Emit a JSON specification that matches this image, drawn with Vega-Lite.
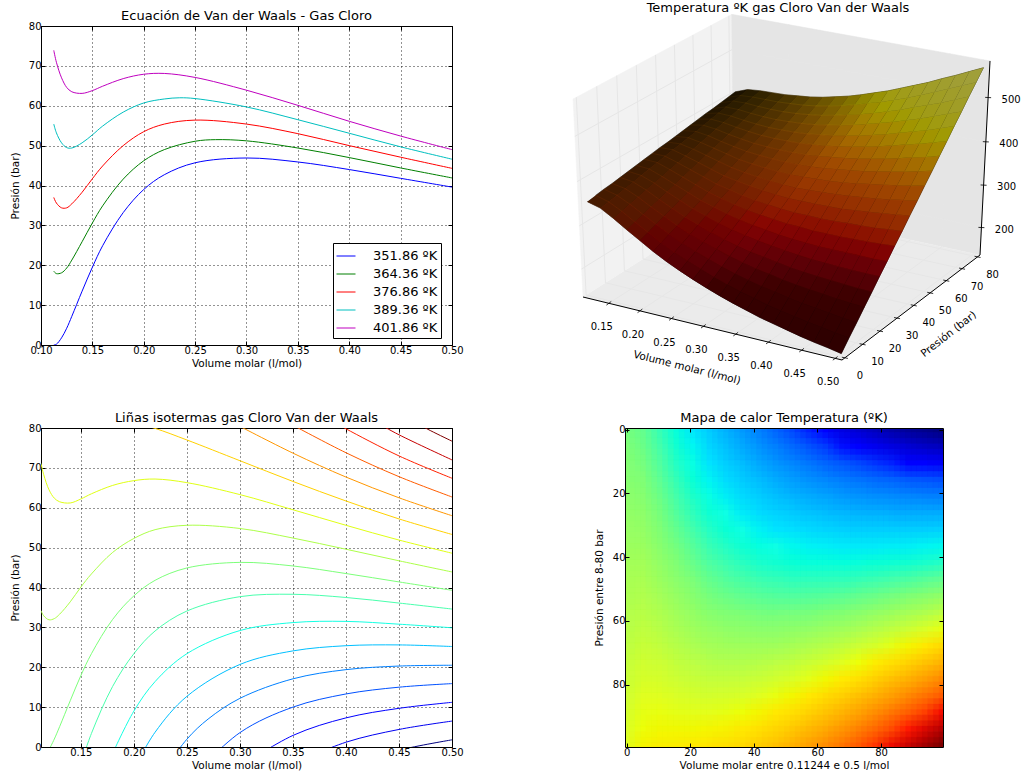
{"$schema":"https://vega.github.io/schema/vega-lite/v6.json","background":"white","padding":{"left":10,"top":2,"right":0,"bottom":0},"bounds":"flush","columns":2,"spacing":{"row":83,"column":173},
"config":{"font":"DejaVu Sans","view":{"stroke":null},"axis":{"domainColor":"#000","tickColor":"#000","labelColor":"#000","titleColor":"#000","labelFontSize":10,"titleFontSize":10.5,"titleFontWeight":"normal","gridColor":"#000","gridDash":[1,3],"gridOpacity":0.85,"tickSize":-4,"labelPadding":4,"labelFlush":false,"labelOverlap":false},"title":{"fontSize":13,"fontWeight":"normal","color":"#000","offset":-2,"anchor":"middle"}},
"datasets":{
"vdw":[
{"s":"351.86 ºK","v":0.11244,"P":0},{"s":"351.86 ºK","v":0.115,"P":0.2},{"s":"351.86 ºK","v":0.12,"P":1.8},{"s":"351.86 ºK","v":0.125,"P":4.2},{"s":"351.86 ºK","v":0.13,"P":7.2},{"s":"351.86 ºK","v":0.14,"P":13.5},{"s":"351.86 ºK","v":0.15,"P":19.5},{"s":"351.86 ºK","v":0.16,"P":24.9},{"s":"351.86 ºK","v":0.18,"P":33.2},{"s":"351.86 ºK","v":0.2,"P":39},{"s":"351.86 ºK","v":0.22,"P":42.7},{"s":"351.86 ºK","v":0.25,"P":45.7},{"s":"351.86 ºK","v":0.3,"P":46.9},{"s":"351.86 ºK","v":0.35,"P":45.9},{"s":"351.86 ºK","v":0.4,"P":44},{"s":"351.86 ºK","v":0.45,"P":41.8},{"s":"351.86 ºK","v":0.5,"P":39.6},
{"s":"364.36 ºK","v":0.11244,"P":18.5},{"s":"364.36 ºK","v":0.115,"P":17.9},{"s":"364.36 ºK","v":0.12,"P":18.1},{"s":"364.36 ºK","v":0.125,"P":19.3},{"s":"364.36 ºK","v":0.13,"P":21.3},{"s":"364.36 ºK","v":0.14,"P":25.9},{"s":"364.36 ºK","v":0.15,"P":30.6},{"s":"364.36 ºK","v":0.16,"P":34.9},{"s":"364.36 ºK","v":0.18,"P":41.6},{"s":"364.36 ºK","v":0.2,"P":46.2},{"s":"364.36 ºK","v":0.22,"P":49},{"s":"364.36 ºK","v":0.25,"P":51.1},{"s":"364.36 ºK","v":0.27,"P":51.5},{"s":"364.36 ºK","v":0.3,"P":51.2},{"s":"364.36 ºK","v":0.35,"P":49.4},{"s":"364.36 ºK","v":0.4,"P":47},{"s":"364.36 ºK","v":0.45,"P":44.4},{"s":"364.36 ºK","v":0.5,"P":41.9},
{"s":"376.86 ºK","v":0.11244,"P":37},{"s":"376.86 ºK","v":0.115,"P":35.6},{"s":"376.86 ºK","v":0.12,"P":34.4},{"s":"376.86 ºK","v":0.125,"P":34.4},{"s":"376.86 ºK","v":0.13,"P":35.4},{"s":"376.86 ºK","v":0.14,"P":38.3},{"s":"376.86 ºK","v":0.15,"P":41.7},{"s":"376.86 ºK","v":0.16,"P":44.9},{"s":"376.86 ºK","v":0.18,"P":50},{"s":"376.86 ºK","v":0.2,"P":53.5},{"s":"376.86 ºK","v":0.22,"P":55.4},{"s":"376.86 ºK","v":0.25,"P":56.4},{"s":"376.86 ºK","v":0.3,"P":55.4},{"s":"376.86 ºK","v":0.35,"P":53},{"s":"376.86 ºK","v":0.4,"P":50},{"s":"376.86 ºK","v":0.45,"P":47.1},{"s":"376.86 ºK","v":0.5,"P":44.3},
{"s":"389.36 ºK","v":0.11244,"P":55.4},{"s":"389.36 ºK","v":0.115,"P":53.2},{"s":"389.36 ºK","v":0.12,"P":50.7},{"s":"389.36 ºK","v":0.125,"P":49.5},{"s":"389.36 ºK","v":0.13,"P":49.4},{"s":"389.36 ºK","v":0.14,"P":50.7},{"s":"389.36 ºK","v":0.15,"P":52.7},{"s":"389.36 ºK","v":0.16,"P":54.9},{"s":"389.36 ºK","v":0.18,"P":58.4},{"s":"389.36 ºK","v":0.2,"P":60.7},{"s":"389.36 ºK","v":0.22,"P":61.7},{"s":"389.36 ºK","v":0.235,"P":62},{"s":"389.36 ºK","v":0.25,"P":61.8},{"s":"389.36 ºK","v":0.3,"P":59.7},{"s":"389.36 ºK","v":0.35,"P":56.5},{"s":"389.36 ºK","v":0.4,"P":53.1},{"s":"389.36 ºK","v":0.45,"P":49.7},{"s":"389.36 ºK","v":0.5,"P":46.6},
{"s":"401.86 ºK","v":0.11244,"P":73.9},{"s":"401.86 ºK","v":0.115,"P":70.9},{"s":"401.86 ºK","v":0.12,"P":67},{"s":"401.86 ºK","v":0.125,"P":64.6},{"s":"401.86 ºK","v":0.13,"P":63.5},{"s":"401.86 ºK","v":0.14,"P":63.1},{"s":"401.86 ºK","v":0.15,"P":63.8},{"s":"401.86 ºK","v":0.16,"P":64.9},{"s":"401.86 ºK","v":0.18,"P":66.8},{"s":"401.86 ºK","v":0.2,"P":67.9},{"s":"401.86 ºK","v":0.22,"P":68.1},{"s":"401.86 ºK","v":0.25,"P":67.1},{"s":"401.86 ºK","v":0.3,"P":63.9},{"s":"401.86 ºK","v":0.35,"P":60.1},{"s":"401.86 ºK","v":0.4,"P":56.1},{"s":"401.86 ºK","v":0.45,"P":52.4},{"s":"401.86 ºK","v":0.5,"P":49}],
"iso":[
{"T":150,"v":0.4,"P":-4.8},{"T":150,"v":0.45,"P":-0.8},{"T":150,"v":0.5,"P":1.8},
{"T":175,"v":0.35,"P":-4.2},{"T":175,"v":0.4,"P":1.2},{"T":175,"v":0.45,"P":4.4},{"T":175,"v":0.5,"P":6.5},
{"T":200,"v":0.3,"P":-4.9},{"T":200,"v":0.35,"P":2.9},{"T":200,"v":0.4,"P":7.3},{"T":200,"v":0.45,"P":9.7},{"T":200,"v":0.5,"P":11.2},
{"T":225,"v":0.25,"P":-8.8},{"T":225,"v":0.3,"P":3.6},{"T":225,"v":0.35,"P":10},{"T":225,"v":0.4,"P":13.3},{"T":225,"v":0.45,"P":15},{"T":225,"v":0.5,"P":15.9},
{"T":250,"v":0.22,"P":-9},{"T":250,"v":0.25,"P":1.95},{"T":250,"v":0.27,"P":7},{"T":250,"v":0.3,"P":12.2},{"T":250,"v":0.35,"P":17.1},{"T":250,"v":0.4,"P":19.4},{"T":250,"v":0.45,"P":20.3},{"T":250,"v":0.5,"P":20.5},
{"T":275,"v":0.2,"P":-5.5},{"T":275,"v":0.22,"P":3.7},{"T":275,"v":0.25,"P":12.7},{"T":275,"v":0.3,"P":20.7},{"T":275,"v":0.35,"P":24.1},{"T":275,"v":0.4,"P":25.4},{"T":275,"v":0.45,"P":25.6},{"T":275,"v":0.5,"P":25.2},
{"T":300,"v":0.18,"P":-1.6},{"T":300,"v":0.2,"P":9},{"T":300,"v":0.22,"P":16.4},{"T":300,"v":0.25,"P":23.4},{"T":300,"v":0.3,"P":29.2},{"T":300,"v":0.35,"P":31.2},{"T":300,"v":0.4,"P":31.5},{"T":300,"v":0.45,"P":30.8},{"T":300,"v":0.5,"P":29.9},
{"T":325,"v":0.15,"P":-4.3},{"T":325,"v":0.16,"P":3.4},{"T":325,"v":0.18,"P":15.2},{"T":325,"v":0.2,"P":23.4},{"T":325,"v":0.22,"P":29.1},{"T":325,"v":0.25,"P":34.1},{"T":325,"v":0.3,"P":37.7},{"T":325,"v":0.35,"P":38.3},{"T":325,"v":0.4,"P":37.5},{"T":325,"v":0.45,"P":36.1},{"T":325,"v":0.5,"P":34.6},
{"T":350,"v":0.12,"P":-0.7},{"T":350,"v":0.125,"P":2},{"T":350,"v":0.13,"P":5.1},{"T":350,"v":0.14,"P":11.6},{"T":350,"v":0.15,"P":17.9},{"T":350,"v":0.16,"P":23.4},{"T":350,"v":0.18,"P":32},{"T":350,"v":0.2,"P":37.9},{"T":350,"v":0.22,"P":41.8},{"T":350,"v":0.25,"P":44.9},{"T":350,"v":0.3,"P":46.3},{"T":350,"v":0.35,"P":45.4},{"T":350,"v":0.4,"P":43.5},{"T":350,"v":0.45,"P":41.4},{"T":350,"v":0.5,"P":39.3},
{"T":375,"v":0.11244,"P":34.2},{"T":375,"v":0.115,"P":32.9},{"T":375,"v":0.12,"P":31.9},{"T":375,"v":0.125,"P":32.2},{"T":375,"v":0.13,"P":33.3},{"T":375,"v":0.14,"P":36.4},{"T":375,"v":0.15,"P":40.1},{"T":375,"v":0.16,"P":43.4},{"T":375,"v":0.18,"P":48.8},{"T":375,"v":0.2,"P":52.3},{"T":375,"v":0.22,"P":54.5},{"T":375,"v":0.25,"P":55.6},{"T":375,"v":0.3,"P":54.8},{"T":375,"v":0.35,"P":52.4},{"T":375,"v":0.4,"P":49.6},{"T":375,"v":0.45,"P":46.7},{"T":375,"v":0.5,"P":43.9},
{"T":400,"v":0.11244,"P":71.1},{"T":400,"v":0.115,"P":68.3},{"T":400,"v":0.12,"P":64.5},{"T":400,"v":0.125,"P":62.4},{"T":400,"v":0.13,"P":61.5},{"T":400,"v":0.14,"P":61.2},{"T":400,"v":0.15,"P":62.2},{"T":400,"v":0.16,"P":63.5},{"T":400,"v":0.18,"P":65.6},{"T":400,"v":0.2,"P":66.8},{"T":400,"v":0.22,"P":67.2},{"T":400,"v":0.25,"P":66.3},{"T":400,"v":0.3,"P":63.3},{"T":400,"v":0.35,"P":59.5},{"T":400,"v":0.4,"P":55.6},{"T":400,"v":0.45,"P":51.9},{"T":400,"v":0.5,"P":48.6},
{"T":425,"v":0.2,"P":81.3},{"T":425,"v":0.22,"P":79.9},{"T":425,"v":0.25,"P":77},{"T":425,"v":0.3,"P":71.8},{"T":425,"v":0.35,"P":66.6},{"T":425,"v":0.4,"P":61.7},{"T":425,"v":0.45,"P":57.2},{"T":425,"v":0.5,"P":53.3},
{"T":450,"v":0.295,"P":81.1},{"T":450,"v":0.35,"P":73.7},{"T":450,"v":0.4,"P":67.7},{"T":450,"v":0.45,"P":62.5},{"T":450,"v":0.5,"P":58},
{"T":475,"v":0.35,"P":80.7},{"T":475,"v":0.4,"P":73.8},{"T":475,"v":0.45,"P":67.8},{"T":475,"v":0.5,"P":62.7},
{"T":500,"v":0.39,"P":81.3},{"T":500,"v":0.4,"P":79.8},{"T":500,"v":0.45,"P":73},{"T":500,"v":0.5,"P":67.4},
{"T":525,"v":0.43,"P":81.2},{"T":525,"v":0.45,"P":78.3},{"T":525,"v":0.5,"P":72},
{"T":550,"v":0.46,"P":82.1},{"T":550,"v":0.48,"P":79.3},{"T":550,"v":0.5,"P":76.7}],
"scene":[
{"kind":"pane","g":"left","o":0,"v":0.108,"p":-1.6,"T":134},{"kind":"pane","g":"left","o":1,"v":0.108,"p":-1.6,"T":581},{"kind":"pane","g":"left","o":2,"v":0.108,"p":81.6,"T":581},{"kind":"pane","g":"left","o":3,"v":0.108,"p":81.6,"T":134},
{"kind":"pane","g":"back","o":0,"v":0.108,"p":81.6,"T":134},{"kind":"pane","g":"back","o":1,"v":0.108,"p":81.6,"T":581},{"kind":"pane","g":"back","o":2,"v":0.51,"p":81.6,"T":581},{"kind":"pane","g":"back","o":3,"v":0.51,"p":81.6,"T":134},
{"kind":"pane","g":"floor","o":0,"v":0.108,"p":-1.6,"T":134},{"kind":"pane","g":"floor","o":1,"v":0.51,"p":-1.6,"T":134},{"kind":"pane","g":"floor","o":2,"v":0.51,"p":81.6,"T":134},{"kind":"pane","g":"floor","o":3,"v":0.108,"p":81.6,"T":134},
{"kind":"grid","g":"v15","o":0,"v":0.15,"p":-1.6,"T":134},{"kind":"grid","g":"v15","o":1,"v":0.15,"p":81.6,"T":134},{"kind":"grid","g":"v15","o":2,"v":0.15,"p":81.6,"T":581},
{"kind":"grid","g":"v20","o":0,"v":0.2,"p":-1.6,"T":134},{"kind":"grid","g":"v20","o":1,"v":0.2,"p":81.6,"T":134},{"kind":"grid","g":"v20","o":2,"v":0.2,"p":81.6,"T":581},
{"kind":"grid","g":"v25","o":0,"v":0.25,"p":-1.6,"T":134},{"kind":"grid","g":"v25","o":1,"v":0.25,"p":81.6,"T":134},{"kind":"grid","g":"v25","o":2,"v":0.25,"p":81.6,"T":581},
{"kind":"grid","g":"v30","o":0,"v":0.3,"p":-1.6,"T":134},{"kind":"grid","g":"v30","o":1,"v":0.3,"p":81.6,"T":134},{"kind":"grid","g":"v30","o":2,"v":0.3,"p":81.6,"T":581},
{"kind":"grid","g":"v35","o":0,"v":0.35,"p":-1.6,"T":134},{"kind":"grid","g":"v35","o":1,"v":0.35,"p":81.6,"T":134},{"kind":"grid","g":"v35","o":2,"v":0.35,"p":81.6,"T":581},
{"kind":"grid","g":"v40","o":0,"v":0.4,"p":-1.6,"T":134},{"kind":"grid","g":"v40","o":1,"v":0.4,"p":81.6,"T":134},{"kind":"grid","g":"v40","o":2,"v":0.4,"p":81.6,"T":581},
{"kind":"grid","g":"v45","o":0,"v":0.45,"p":-1.6,"T":134},{"kind":"grid","g":"v45","o":1,"v":0.45,"p":81.6,"T":134},{"kind":"grid","g":"v45","o":2,"v":0.45,"p":81.6,"T":581},
{"kind":"grid","g":"v50","o":0,"v":0.5,"p":-1.6,"T":134},{"kind":"grid","g":"v50","o":1,"v":0.5,"p":81.6,"T":134},{"kind":"grid","g":"v50","o":2,"v":0.5,"p":81.6,"T":581},
{"kind":"grid","g":"p0","o":0,"v":0.51,"p":0,"T":134},{"kind":"grid","g":"p0","o":1,"v":0.108,"p":0,"T":134},{"kind":"grid","g":"p0","o":2,"v":0.108,"p":0,"T":581},
{"kind":"grid","g":"p10","o":0,"v":0.51,"p":10,"T":134},{"kind":"grid","g":"p10","o":1,"v":0.108,"p":10,"T":134},{"kind":"grid","g":"p10","o":2,"v":0.108,"p":10,"T":581},
{"kind":"grid","g":"p20","o":0,"v":0.51,"p":20,"T":134},{"kind":"grid","g":"p20","o":1,"v":0.108,"p":20,"T":134},{"kind":"grid","g":"p20","o":2,"v":0.108,"p":20,"T":581},
{"kind":"grid","g":"p30","o":0,"v":0.51,"p":30,"T":134},{"kind":"grid","g":"p30","o":1,"v":0.108,"p":30,"T":134},{"kind":"grid","g":"p30","o":2,"v":0.108,"p":30,"T":581},
{"kind":"grid","g":"p40","o":0,"v":0.51,"p":40,"T":134},{"kind":"grid","g":"p40","o":1,"v":0.108,"p":40,"T":134},{"kind":"grid","g":"p40","o":2,"v":0.108,"p":40,"T":581},
{"kind":"grid","g":"p50","o":0,"v":0.51,"p":50,"T":134},{"kind":"grid","g":"p50","o":1,"v":0.108,"p":50,"T":134},{"kind":"grid","g":"p50","o":2,"v":0.108,"p":50,"T":581},
{"kind":"grid","g":"p60","o":0,"v":0.51,"p":60,"T":134},{"kind":"grid","g":"p60","o":1,"v":0.108,"p":60,"T":134},{"kind":"grid","g":"p60","o":2,"v":0.108,"p":60,"T":581},
{"kind":"grid","g":"p70","o":0,"v":0.51,"p":70,"T":134},{"kind":"grid","g":"p70","o":1,"v":0.108,"p":70,"T":134},{"kind":"grid","g":"p70","o":2,"v":0.108,"p":70,"T":581},
{"kind":"grid","g":"p80","o":0,"v":0.51,"p":80,"T":134},{"kind":"grid","g":"p80","o":1,"v":0.108,"p":80,"T":134},{"kind":"grid","g":"p80","o":2,"v":0.108,"p":80,"T":581},
{"kind":"grid","g":"t200","o":0,"v":0.108,"p":-1.6,"T":200},{"kind":"grid","g":"t200","o":1,"v":0.108,"p":81.6,"T":200},{"kind":"grid","g":"t200","o":2,"v":0.51,"p":81.6,"T":200},
{"kind":"grid","g":"t300","o":0,"v":0.108,"p":-1.6,"T":300},{"kind":"grid","g":"t300","o":1,"v":0.108,"p":81.6,"T":300},{"kind":"grid","g":"t300","o":2,"v":0.51,"p":81.6,"T":300},
{"kind":"grid","g":"t400","o":0,"v":0.108,"p":-1.6,"T":400},{"kind":"grid","g":"t400","o":1,"v":0.108,"p":81.6,"T":400},{"kind":"grid","g":"t400","o":2,"v":0.51,"p":81.6,"T":400},
{"kind":"grid","g":"t500","o":0,"v":0.108,"p":-1.6,"T":500},{"kind":"grid","g":"t500","o":1,"v":0.108,"p":81.6,"T":500},{"kind":"grid","g":"t500","o":2,"v":0.51,"p":81.6,"T":500},
{"kind":"axis","g":"av","o":0,"v":0.108,"p":-1.6,"T":134},{"kind":"axis","g":"av","o":1,"v":0.51,"p":-1.6,"T":134},
{"kind":"axis","g":"ap","o":0,"v":0.51,"p":-1.6,"T":134},{"kind":"axis","g":"ap","o":1,"v":0.51,"p":81.6,"T":134},
{"kind":"axis","g":"az","o":0,"v":0.51,"p":81.6,"T":134},{"kind":"axis","g":"az","o":1,"v":0.51,"p":81.6,"T":581},
{"kind":"tickv","label":"0.15","v":0.15,"p":-1.6,"T":134},{"kind":"tickv","label":"0.20","v":0.2,"p":-1.6,"T":134},{"kind":"tickv","label":"0.25","v":0.25,"p":-1.6,"T":134},{"kind":"tickv","label":"0.30","v":0.3,"p":-1.6,"T":134},{"kind":"tickv","label":"0.35","v":0.35,"p":-1.6,"T":134},{"kind":"tickv","label":"0.40","v":0.4,"p":-1.6,"T":134},{"kind":"tickv","label":"0.45","v":0.45,"p":-1.6,"T":134},{"kind":"tickv","label":"0.50","v":0.5,"p":-1.6,"T":134},
{"kind":"tickp","label":"0","v":0.51,"p":0,"T":134},{"kind":"tickp","label":"10","v":0.51,"p":10,"T":134},{"kind":"tickp","label":"20","v":0.51,"p":20,"T":134},{"kind":"tickp","label":"30","v":0.51,"p":30,"T":134},{"kind":"tickp","label":"40","v":0.51,"p":40,"T":134},{"kind":"tickp","label":"50","v":0.51,"p":50,"T":134},{"kind":"tickp","label":"60","v":0.51,"p":60,"T":134},{"kind":"tickp","label":"70","v":0.51,"p":70,"T":134},{"kind":"tickp","label":"80","v":0.51,"p":80,"T":134},
{"kind":"tickz","label":"200","v":0.51,"p":81.6,"T":200},{"kind":"tickz","label":"300","v":0.51,"p":81.6,"T":300},{"kind":"tickz","label":"400","v":0.51,"p":81.6,"T":400},{"kind":"tickz","label":"500","v":0.51,"p":81.6,"T":500},
{"kind":"titlev","label":"Volume molar (l/mol)","v":0.31,"p":-1.6,"T":134},
{"kind":"titlep","label":"Presión (bar)","v":0.51,"p":40,"T":134}],
"surf":[
{"vi":0,"pi":0,"T":352},{"vi":0,"pi":1,"T":355},{"vi":0,"pi":2,"T":358},{"vi":0,"pi":3,"T":360},{"vi":0,"pi":4,"T":363},{"vi":0,"pi":5,"T":366},{"vi":0,"pi":6,"T":369},{"vi":0,"pi":7,"T":372},{"vi":0,"pi":8,"T":375},{"vi":0,"pi":9,"T":378},{"vi":0,"pi":10,"T":380},{"vi":0,"pi":11,"T":383},{"vi":0,"pi":12,"T":386},{"vi":0,"pi":13,"T":389},{"vi":0,"pi":14,"T":392},{"vi":0,"pi":15,"T":395},{"vi":0,"pi":16,"T":397},{"vi":0,"pi":17,"T":400},{"vi":0,"pi":18,"T":403},{"vi":0,"pi":19,"T":406},
{"vi":1,"pi":0,"T":344},{"vi":1,"pi":1,"T":347},{"vi":1,"pi":2,"T":351},{"vi":1,"pi":3,"T":355},{"vi":1,"pi":4,"T":359},{"vi":1,"pi":5,"T":363},{"vi":1,"pi":6,"T":367},{"vi":1,"pi":7,"T":371},{"vi":1,"pi":8,"T":375},{"vi":1,"pi":9,"T":379},{"vi":1,"pi":10,"T":382},{"vi":1,"pi":11,"T":386},{"vi":1,"pi":12,"T":390},{"vi":1,"pi":13,"T":394},{"vi":1,"pi":14,"T":398},{"vi":1,"pi":15,"T":402},{"vi":1,"pi":16,"T":406},{"vi":1,"pi":17,"T":410},{"vi":1,"pi":18,"T":413},{"vi":1,"pi":19,"T":417},
{"vi":2,"pi":0,"T":327},{"vi":2,"pi":1,"T":332},{"vi":2,"pi":2,"T":337},{"vi":2,"pi":3,"T":342},{"vi":2,"pi":4,"T":347},{"vi":2,"pi":5,"T":352},{"vi":2,"pi":6,"T":356},{"vi":2,"pi":7,"T":361},{"vi":2,"pi":8,"T":366},{"vi":2,"pi":9,"T":371},{"vi":2,"pi":10,"T":376},{"vi":2,"pi":11,"T":381},{"vi":2,"pi":12,"T":386},{"vi":2,"pi":13,"T":391},{"vi":2,"pi":14,"T":396},{"vi":2,"pi":15,"T":401},{"vi":2,"pi":16,"T":406},{"vi":2,"pi":17,"T":411},{"vi":2,"pi":18,"T":415},{"vi":2,"pi":19,"T":420},
{"vi":3,"pi":0,"T":308},{"vi":3,"pi":1,"T":314},{"vi":3,"pi":2,"T":320},{"vi":3,"pi":3,"T":326},{"vi":3,"pi":4,"T":332},{"vi":3,"pi":5,"T":338},{"vi":3,"pi":6,"T":344},{"vi":3,"pi":7,"T":350},{"vi":3,"pi":8,"T":356},{"vi":3,"pi":9,"T":362},{"vi":3,"pi":10,"T":368},{"vi":3,"pi":11,"T":374},{"vi":3,"pi":12,"T":379},{"vi":3,"pi":13,"T":385},{"vi":3,"pi":14,"T":391},{"vi":3,"pi":15,"T":397},{"vi":3,"pi":16,"T":403},{"vi":3,"pi":17,"T":409},{"vi":3,"pi":18,"T":415},{"vi":3,"pi":19,"T":421},
{"vi":4,"pi":0,"T":290},{"vi":4,"pi":1,"T":297},{"vi":4,"pi":2,"T":304},{"vi":4,"pi":3,"T":311},{"vi":4,"pi":4,"T":318},{"vi":4,"pi":5,"T":325},{"vi":4,"pi":6,"T":332},{"vi":4,"pi":7,"T":339},{"vi":4,"pi":8,"T":346},{"vi":4,"pi":9,"T":353},{"vi":4,"pi":10,"T":360},{"vi":4,"pi":11,"T":367},{"vi":4,"pi":12,"T":373},{"vi":4,"pi":13,"T":380},{"vi":4,"pi":14,"T":387},{"vi":4,"pi":15,"T":394},{"vi":4,"pi":16,"T":401},{"vi":4,"pi":17,"T":408},{"vi":4,"pi":18,"T":415},{"vi":4,"pi":19,"T":422},
{"vi":5,"pi":0,"T":272},{"vi":5,"pi":1,"T":280},{"vi":5,"pi":2,"T":288},{"vi":5,"pi":3,"T":296},{"vi":5,"pi":4,"T":304},{"vi":5,"pi":5,"T":312},{"vi":5,"pi":6,"T":320},{"vi":5,"pi":7,"T":328},{"vi":5,"pi":8,"T":336},{"vi":5,"pi":9,"T":344},{"vi":5,"pi":10,"T":352},{"vi":5,"pi":11,"T":360},{"vi":5,"pi":12,"T":368},{"vi":5,"pi":13,"T":376},{"vi":5,"pi":14,"T":384},{"vi":5,"pi":15,"T":392},{"vi":5,"pi":16,"T":400},{"vi":5,"pi":17,"T":408},{"vi":5,"pi":18,"T":417},{"vi":5,"pi":19,"T":425},
{"vi":6,"pi":0,"T":256},{"vi":6,"pi":1,"T":265},{"vi":6,"pi":2,"T":274},{"vi":6,"pi":3,"T":283},{"vi":6,"pi":4,"T":293},{"vi":6,"pi":5,"T":302},{"vi":6,"pi":6,"T":311},{"vi":6,"pi":7,"T":320},{"vi":6,"pi":8,"T":329},{"vi":6,"pi":9,"T":338},{"vi":6,"pi":10,"T":347},{"vi":6,"pi":11,"T":356},{"vi":6,"pi":12,"T":365},{"vi":6,"pi":13,"T":374},{"vi":6,"pi":14,"T":383},{"vi":6,"pi":15,"T":392},{"vi":6,"pi":16,"T":401},{"vi":6,"pi":17,"T":410},{"vi":6,"pi":18,"T":419},{"vi":6,"pi":19,"T":428},
{"vi":7,"pi":0,"T":242},{"vi":7,"pi":1,"T":252},{"vi":7,"pi":2,"T":262},{"vi":7,"pi":3,"T":272},{"vi":7,"pi":4,"T":282},{"vi":7,"pi":5,"T":292},{"vi":7,"pi":6,"T":302},{"vi":7,"pi":7,"T":312},{"vi":7,"pi":8,"T":322},{"vi":7,"pi":9,"T":333},{"vi":7,"pi":10,"T":343},{"vi":7,"pi":11,"T":353},{"vi":7,"pi":12,"T":363},{"vi":7,"pi":13,"T":373},{"vi":7,"pi":14,"T":383},{"vi":7,"pi":15,"T":393},{"vi":7,"pi":16,"T":403},{"vi":7,"pi":17,"T":413},{"vi":7,"pi":18,"T":423},{"vi":7,"pi":19,"T":433},
{"vi":8,"pi":0,"T":229},{"vi":8,"pi":1,"T":240},{"vi":8,"pi":2,"T":251},{"vi":8,"pi":3,"T":262},{"vi":8,"pi":4,"T":273},{"vi":8,"pi":5,"T":284},{"vi":8,"pi":6,"T":295},{"vi":8,"pi":7,"T":306},{"vi":8,"pi":8,"T":317},{"vi":8,"pi":9,"T":329},{"vi":8,"pi":10,"T":340},{"vi":8,"pi":11,"T":351},{"vi":8,"pi":12,"T":362},{"vi":8,"pi":13,"T":373},{"vi":8,"pi":14,"T":384},{"vi":8,"pi":15,"T":395},{"vi":8,"pi":16,"T":406},{"vi":8,"pi":17,"T":417},{"vi":8,"pi":18,"T":429},{"vi":8,"pi":19,"T":440},
{"vi":9,"pi":0,"T":217},{"vi":9,"pi":1,"T":229},{"vi":9,"pi":2,"T":241},{"vi":9,"pi":3,"T":253},{"vi":9,"pi":4,"T":265},{"vi":9,"pi":5,"T":277},{"vi":9,"pi":6,"T":289},{"vi":9,"pi":7,"T":302},{"vi":9,"pi":8,"T":314},{"vi":9,"pi":9,"T":326},{"vi":9,"pi":10,"T":338},{"vi":9,"pi":11,"T":350},{"vi":9,"pi":12,"T":362},{"vi":9,"pi":13,"T":374},{"vi":9,"pi":14,"T":387},{"vi":9,"pi":15,"T":399},{"vi":9,"pi":16,"T":411},{"vi":9,"pi":17,"T":423},{"vi":9,"pi":18,"T":435},{"vi":9,"pi":19,"T":447},
{"vi":10,"pi":0,"T":206},{"vi":10,"pi":1,"T":219},{"vi":10,"pi":2,"T":232},{"vi":10,"pi":3,"T":245},{"vi":10,"pi":4,"T":258},{"vi":10,"pi":5,"T":272},{"vi":10,"pi":6,"T":285},{"vi":10,"pi":7,"T":298},{"vi":10,"pi":8,"T":311},{"vi":10,"pi":9,"T":324},{"vi":10,"pi":10,"T":337},{"vi":10,"pi":11,"T":351},{"vi":10,"pi":12,"T":364},{"vi":10,"pi":13,"T":377},{"vi":10,"pi":14,"T":390},{"vi":10,"pi":15,"T":403},{"vi":10,"pi":16,"T":416},{"vi":10,"pi":17,"T":430},{"vi":10,"pi":18,"T":443},{"vi":10,"pi":19,"T":456},
{"vi":11,"pi":0,"T":196},{"vi":11,"pi":1,"T":210},{"vi":11,"pi":2,"T":224},{"vi":11,"pi":3,"T":238},{"vi":11,"pi":4,"T":253},{"vi":11,"pi":5,"T":267},{"vi":11,"pi":6,"T":281},{"vi":11,"pi":7,"T":295},{"vi":11,"pi":8,"T":309},{"vi":11,"pi":9,"T":324},{"vi":11,"pi":10,"T":338},{"vi":11,"pi":11,"T":352},{"vi":11,"pi":12,"T":366},{"vi":11,"pi":13,"T":381},{"vi":11,"pi":14,"T":395},{"vi":11,"pi":15,"T":409},{"vi":11,"pi":16,"T":423},{"vi":11,"pi":17,"T":437},{"vi":11,"pi":18,"T":452},{"vi":11,"pi":19,"T":466},
{"vi":12,"pi":0,"T":187},{"vi":12,"pi":1,"T":202},{"vi":12,"pi":2,"T":217},{"vi":12,"pi":3,"T":233},{"vi":12,"pi":4,"T":248},{"vi":12,"pi":5,"T":263},{"vi":12,"pi":6,"T":278},{"vi":12,"pi":7,"T":294},{"vi":12,"pi":8,"T":309},{"vi":12,"pi":9,"T":324},{"vi":12,"pi":10,"T":339},{"vi":12,"pi":11,"T":354},{"vi":12,"pi":12,"T":370},{"vi":12,"pi":13,"T":385},{"vi":12,"pi":14,"T":400},{"vi":12,"pi":15,"T":415},{"vi":12,"pi":16,"T":431},{"vi":12,"pi":17,"T":446},{"vi":12,"pi":18,"T":461},{"vi":12,"pi":19,"T":476},
{"vi":13,"pi":0,"T":178},{"vi":13,"pi":1,"T":194},{"vi":13,"pi":2,"T":211},{"vi":13,"pi":3,"T":227},{"vi":13,"pi":4,"T":243},{"vi":13,"pi":5,"T":260},{"vi":13,"pi":6,"T":276},{"vi":13,"pi":7,"T":292},{"vi":13,"pi":8,"T":308},{"vi":13,"pi":9,"T":325},{"vi":13,"pi":10,"T":341},{"vi":13,"pi":11,"T":357},{"vi":13,"pi":12,"T":374},{"vi":13,"pi":13,"T":390},{"vi":13,"pi":14,"T":406},{"vi":13,"pi":15,"T":422},{"vi":13,"pi":16,"T":439},{"vi":13,"pi":17,"T":455},{"vi":13,"pi":18,"T":471},{"vi":13,"pi":19,"T":488},
{"vi":14,"pi":0,"T":171},{"vi":14,"pi":1,"T":188},{"vi":14,"pi":2,"T":205},{"vi":14,"pi":3,"T":223},{"vi":14,"pi":4,"T":240},{"vi":14,"pi":5,"T":257},{"vi":14,"pi":6,"T":274},{"vi":14,"pi":7,"T":292},{"vi":14,"pi":8,"T":309},{"vi":14,"pi":9,"T":326},{"vi":14,"pi":10,"T":344},{"vi":14,"pi":11,"T":361},{"vi":14,"pi":12,"T":378},{"vi":14,"pi":13,"T":396},{"vi":14,"pi":14,"T":413},{"vi":14,"pi":15,"T":430},{"vi":14,"pi":16,"T":448},{"vi":14,"pi":17,"T":465},{"vi":14,"pi":18,"T":482},{"vi":14,"pi":19,"T":500},
{"vi":15,"pi":0,"T":164},{"vi":15,"pi":1,"T":182},{"vi":15,"pi":2,"T":200},{"vi":15,"pi":3,"T":219},{"vi":15,"pi":4,"T":237},{"vi":15,"pi":5,"T":256},{"vi":15,"pi":6,"T":274},{"vi":15,"pi":7,"T":292},{"vi":15,"pi":8,"T":311},{"vi":15,"pi":9,"T":329},{"vi":15,"pi":10,"T":347},{"vi":15,"pi":11,"T":366},{"vi":15,"pi":12,"T":384},{"vi":15,"pi":13,"T":402},{"vi":15,"pi":14,"T":421},{"vi":15,"pi":15,"T":439},{"vi":15,"pi":16,"T":457},{"vi":15,"pi":17,"T":476},{"vi":15,"pi":18,"T":494},{"vi":15,"pi":19,"T":512},
{"vi":16,"pi":0,"T":157},{"vi":16,"pi":1,"T":177},{"vi":16,"pi":2,"T":196},{"vi":16,"pi":3,"T":216},{"vi":16,"pi":4,"T":235},{"vi":16,"pi":5,"T":254},{"vi":16,"pi":6,"T":274},{"vi":16,"pi":7,"T":293},{"vi":16,"pi":8,"T":312},{"vi":16,"pi":9,"T":332},{"vi":16,"pi":10,"T":351},{"vi":16,"pi":11,"T":371},{"vi":16,"pi":12,"T":390},{"vi":16,"pi":13,"T":409},{"vi":16,"pi":14,"T":429},{"vi":16,"pi":15,"T":448},{"vi":16,"pi":16,"T":467},{"vi":16,"pi":17,"T":487},{"vi":16,"pi":18,"T":506},{"vi":16,"pi":19,"T":526},
{"vi":17,"pi":0,"T":151},{"vi":17,"pi":1,"T":172},{"vi":17,"pi":2,"T":192},{"vi":17,"pi":3,"T":212},{"vi":17,"pi":4,"T":233},{"vi":17,"pi":5,"T":253},{"vi":17,"pi":6,"T":274},{"vi":17,"pi":7,"T":294},{"vi":17,"pi":8,"T":314},{"vi":17,"pi":9,"T":335},{"vi":17,"pi":10,"T":355},{"vi":17,"pi":11,"T":376},{"vi":17,"pi":12,"T":396},{"vi":17,"pi":13,"T":417},{"vi":17,"pi":14,"T":437},{"vi":17,"pi":15,"T":457},{"vi":17,"pi":16,"T":478},{"vi":17,"pi":17,"T":498},{"vi":17,"pi":18,"T":519},{"vi":17,"pi":19,"T":539},
{"vi":18,"pi":0,"T":146},{"vi":18,"pi":1,"T":167},{"vi":18,"pi":2,"T":188},{"vi":18,"pi":3,"T":210},{"vi":18,"pi":4,"T":231},{"vi":18,"pi":5,"T":253},{"vi":18,"pi":6,"T":274},{"vi":18,"pi":7,"T":296},{"vi":18,"pi":8,"T":317},{"vi":18,"pi":9,"T":339},{"vi":18,"pi":10,"T":360},{"vi":18,"pi":11,"T":381},{"vi":18,"pi":12,"T":403},{"vi":18,"pi":13,"T":424},{"vi":18,"pi":14,"T":446},{"vi":18,"pi":15,"T":467},{"vi":18,"pi":16,"T":489},{"vi":18,"pi":17,"T":510},{"vi":18,"pi":18,"T":532},{"vi":18,"pi":19,"T":553},
{"vi":19,"pi":0,"T":140},{"vi":19,"pi":1,"T":163},{"vi":19,"pi":2,"T":185},{"vi":19,"pi":3,"T":208},{"vi":19,"pi":4,"T":230},{"vi":19,"pi":5,"T":253},{"vi":19,"pi":6,"T":275},{"vi":19,"pi":7,"T":298},{"vi":19,"pi":8,"T":320},{"vi":19,"pi":9,"T":343},{"vi":19,"pi":10,"T":365},{"vi":19,"pi":11,"T":388},{"vi":19,"pi":12,"T":410},{"vi":19,"pi":13,"T":433},{"vi":19,"pi":14,"T":455},{"vi":19,"pi":15,"T":478},{"vi":19,"pi":16,"T":500},{"vi":19,"pi":17,"T":523},{"vi":19,"pi":18,"T":545},{"vi":19,"pi":19,"T":567}]
},
"concat":[
{"width":411,"height":319,"title":"Ecuación de Van der Waals - Gas Cloro","data":{"name":"vdw"},"resolve":{"axis":{"x":"independent","y":"independent"}},
"layer":[
{"mark":{"type":"line","strokeWidth":1,"clip":true,"interpolate":"catmull-rom"},"encoding":{
"x":{"field":"v","type":"quantitative","scale":{"domain":[0.1,0.5],"nice":false,"zero":false},"axis":{"title":"Volume molar (l/mol)","values":[0.1,0.15,0.2,0.25,0.3,0.35,0.4,0.45,0.5],"format":".2f","grid":true,"titlePadding":3}},
"y":{"field":"P","type":"quantitative","scale":{"domain":[0,80],"nice":false},"axis":{"title":"Presión (bar)","values":[0,10,20,30,40,50,60,70,80],"format":"d","grid":true,"titlePadding":8}},
"color":{"field":"s","type":"nominal","scale":{"range":["#0000ff","#007f00","#ff0000","#00bfbf","#bf00bf"]},"legend":{"title":null,"orient":"none","legendX":292,"legendY":217,"symbolType":"stroke","symbolSize":361,"symbolStrokeWidth":1,"labelFontSize":13,"labelColor":"#000","strokeColor":"#000","fillColor":"#fff","padding":3,"rowPadding":1,"labelOffset":17,"cornerRadius":0}}}},
{"mark":{"type":"line","opacity":0},"encoding":{
"x":{"field":"v","type":"quantitative","scale":{"domain":[0.1,0.5],"nice":false,"zero":false},"axis":{"orient":"top","labels":false,"title":null,"values":[0.1,0.15,0.2,0.25,0.3,0.35,0.4,0.45,0.5],"grid":false}},
"y":{"field":"P","type":"quantitative","scale":{"domain":[0,80],"nice":false},"axis":{"orient":"right","labels":false,"title":null,"values":[0,10,20,30,40,50,60,70,80],"grid":false}},"detail":{"field":"s"}}}]},
{"width":318,"height":319,"title":{"text":"Temperatura ºK gas Cloro Van der Waals","offset":-2,"dx":-6},"data":{"name":"scene"},
"transform":[{"calculate":"(datum.v-0.108)/0.402","as":"u"},{"calculate":"(datum.p+1.6)/83.2","as":"w"},{"calculate":"(datum.T-134)/447","as":"z"},{"calculate":"1-0.05*datum.u+0.08*datum.w-0.0487*datum.z","as":"den"},{"calculate":"(583+216.9*datum.u+209.5*datum.w-37.9*datum.z)/datum.den","as":"sx"},{"calculate":"(296+45.05*datum.u-79.43*datum.w-202.8*datum.z)/datum.den","as":"sy"}],
"encoding":{"x":{"field":"sx","type":"quantitative","scale":{"domain":[625,943],"nice":false,"zero":false},"axis":null},"y":{"field":"sy","type":"quantitative","scale":{"domain":[344,25],"nice":false,"zero":false},"axis":null}},
"layer":[
{"transform":[{"filter":"datum.kind=='pane'"}],"mark":{"type":"line","strokeWidth":0.5,"clip":false},"encoding":{"fill":{"field":"g","type":"nominal","scale":{"domain":["left","back","floor"],"range":["#f2f2f2","#e5e5e5","#ebebeb"]},"legend":null},"stroke":{"field":"g","type":"nominal","scale":{"domain":["left","back","floor"],"range":["#f2f2f2","#e5e5e5","#ebebeb"]},"legend":null},"order":{"field":"o","type":"quantitative"}}},
{"transform":[{"filter":"datum.kind=='grid'"}],"mark":{"type":"line","stroke":"#e6e6e6","strokeWidth":1},"encoding":{"detail":{"field":"g"},"order":{"field":"o","type":"quantitative"}}},
{"transform":[{"filter":"datum.kind=='axis'"}],"mark":{"type":"line","stroke":"#000","strokeWidth":1},"encoding":{"detail":{"field":"g"},"order":{"field":"o","type":"quantitative"}}},
{"data":{"name":"surf"},"transform":[{"filter":"datum.vi==0||datum.vi==19||datum.pi==0||datum.pi==19"},{"calculate":"datum.pi==0?datum.vi:(datum.vi==19?19+datum.pi:(datum.pi==19?38+19-datum.vi:57+19-datum.pi))","as":"o"},{"calculate":"0.011+datum.vi*0.05074","as":"u"},{"calculate":"(datum.pi*4.2105+1.6)/83.2","as":"w"},{"calculate":"(datum.T-134)/447","as":"z"},{"calculate":"1-0.05*datum.u+0.08*datum.w-0.0487*datum.z","as":"den"},{"calculate":"(586+216.9*datum.u+209.5*datum.w-37.9*datum.z)/datum.den","as":"sx"},{"calculate":"(296+45.05*datum.u-79.43*datum.w-202.8*datum.z)/datum.den","as":"sy"}],"mark":{"type":"line","fill":"#000","stroke":"#000","strokeWidth":0.5},"encoding":{"order":{"field":"o","type":"quantitative"}}},
{"data":{"name":"surf"},"transform":[{"window":[{"op":"lead","field":"T","param":1,"as":"Tp"},{"op":"lead","field":"T","param":20,"as":"Tv"},{"op":"lead","field":"T","param":21,"as":"Tvp"}],"sort":[{"field":"vi"},{"field":"pi"}]},{"filter":"datum.vi<19&&datum.pi<19"},{"calculate":"(datum.T+datum.Tp+datum.Tv+datum.Tvp)/4","as":"Tm"},{"calculate":"[0,1,2,3]","as":"c"},{"flatten":["c"]},{"calculate":"datum.vi*100+datum.pi","as":"cell"},{"calculate":"clamp(0.15+datum.vi/14+(19-datum.pi)/60,0.15,1)","as":"shade"},{"calculate":"[datum.T,datum.Tv,datum.Tvp,datum.Tp][datum.c]","as":"Tc"},{"calculate":"datum.vi+((datum.c==1||datum.c==2)?1:0)","as":"ci"},{"calculate":"datum.pi+(datum.c>=2?1:0)","as":"cj"},{"calculate":"0.011+datum.ci*0.05074","as":"u"},{"calculate":"(datum.cj*4.2105+1.6)/83.2","as":"w"},{"calculate":"(datum.Tc-134)/447","as":"z"},{"calculate":"1-0.05*datum.u+0.08*datum.w-0.0487*datum.z","as":"den"},{"calculate":"(586+216.9*datum.u+209.5*datum.w-37.9*datum.z)/datum.den","as":"sx"},{"calculate":"(296+45.05*datum.u-79.43*datum.w-202.8*datum.z)/datum.den","as":"sy"}],"mark":{"type":"line","strokeWidth":0.5},"encoding":{"detail":{"field":"cell"},"order":{"field":"c","type":"quantitative"},"fill":{"field":"Tm","type":"quantitative","scale":{"domain":[140,218,296,377,458,567],"range":["#000000","#3c0000","#8a0800","#a04c00","#a09a00","#a0a040"]},"legend":null},"stroke":{"field":"Tm","type":"quantitative","scale":{"domain":[140,218,296,377,458,567],"range":["#000000","#3c0000","#8a0800","#a04c00","#a09a00","#a0a040"]},"legend":null},"opacity":{"field":"shade","type":"quantitative","scale":null}}},
{"transform":[{"filter":"datum.kind=='tickv'"}],"mark":{"type":"point","shape":"M-0.8,0.6L0.8,-0.6","size":36,"filled":false,"stroke":"#000","strokeWidth":0.8,"opacity":1}},
{"transform":[{"filter":"datum.kind=='tickp'"}],"mark":{"type":"point","shape":"M-1,-0.2L1,0.2","size":36,"filled":false,"stroke":"#000","strokeWidth":0.8,"opacity":1}},
{"transform":[{"filter":"datum.kind=='tickz'"}],"mark":{"type":"point","shape":"M-1,-0.05L1,0.05","size":36,"filled":false,"stroke":"#000","strokeWidth":0.8,"opacity":1}},
{"transform":[{"filter":"datum.kind=='tickv'"}],"mark":{"type":"text","fontSize":10,"dx":-7,"dy":24,"color":"#000"},"encoding":{"text":{"field":"label"}}},
{"transform":[{"filter":"datum.kind=='tickp'"}],"mark":{"type":"text","fontSize":10,"dx":15,"dy":18,"color":"#000"},"encoding":{"text":{"field":"label"}}},
{"transform":[{"filter":"datum.kind=='tickz'"}],"mark":{"type":"text","fontSize":10,"dx":23,"dy":2,"color":"#000"},"encoding":{"text":{"field":"label"}}},
{"transform":[{"filter":"datum.kind=='titlev'"}],"mark":{"type":"text","fontSize":10.5,"dx":-12.6,"dy":44.4,"angle":14,"baseline":"middle","color":"#000"},"encoding":{"text":{"field":"label"}}},
{"transform":[{"filter":"datum.kind=='titlep'"}],"mark":{"type":"text","fontSize":10.5,"dx":9.7,"dy":44.4,"angle":322,"baseline":"middle","color":"#000"},"encoding":{"text":{"field":"label"}}}
]},
{"width":411,"height":319,"title":{"text":"Liñas isotermas gas Cloro Van der Waals","offset":-5},"data":{"name":"iso"},"resolve":{"axis":{"x":"independent","y":"independent"}},
"layer":[
{"mark":{"type":"line","strokeWidth":1,"clip":true,"interpolate":"catmull-rom"},"encoding":{
"x":{"field":"v","type":"quantitative","scale":{"domain":[0.11244,0.5],"nice":false,"zero":false},"axis":{"title":"Volume molar (l/mol)","values":[0.15,0.2,0.25,0.3,0.35,0.4,0.45,0.5],"format":".2f","grid":true,"titlePadding":3}},
"y":{"field":"P","type":"quantitative","scale":{"domain":[0,80],"nice":false},"axis":{"title":"Presión (bar)","values":[0,10,20,30,40,50,60,70,80],"format":"d","grid":true,"titlePadding":8}},
"color":{"field":"T","type":"ordinal","scale":{"range":["#00007f","#0000f1","#0000ff","#0050ff","#0080ff","#00c0ff","#14ffe3","#49ffad","#7dff7a","#adff49","#e0ff14","#ffd100","#ff9700","#ff5c00","#ff2100","#c60000","#7f0000"]},"legend":null}}},
{"mark":{"type":"line","opacity":0},"encoding":{
"x":{"field":"v","type":"quantitative","scale":{"domain":[0.11244,0.5],"nice":false,"zero":false},"axis":{"orient":"top","labels":false,"title":null,"values":[0.15,0.2,0.25,0.3,0.35,0.4,0.45,0.5],"grid":false}},
"y":{"field":"P","type":"quantitative","scale":{"domain":[0,80],"nice":false},"axis":{"orient":"right","labels":false,"title":null,"values":[0,10,20,30,40,50,60,70,80],"grid":false}},"detail":{"field":"T"}}}]},
{"width":318,"height":319,"title":{"text":"Mapa de calor Temperatura (ºK)","offset":0},"data":{"name":"surf"},"resolve":{"axis":{"x":"independent","y":"independent"}},
"layer":[
{"encoding":{"color":{"field":"T","type":"quantitative","scale":{"domain":[140,187,193,289.5,300,353.5,413,422,520,567],"range":["#00007f","#0000ff","#0003ff","#00e6ff","#14ffeb","#7dff7a","#eeff0a","#ffed00","#ff1200","#7f0000"]},"legend":null},
"x":{"field":"cx","type":"quantitative","scale":{"domain":[-0.5,99.5],"nice":false,"zero":false},"axis":{"title":"Volume molar entre 0.11244 e 0.5 l/mol","values":[0,20,40,60,80],"format":"d","grid":false,"zindex":1,"titlePadding":3}},
"y":{"field":"cy","type":"quantitative","scale":{"domain":[99.5,-0.5],"nice":false,"zero":false},"axis":{"title":"Presión entre 8-80 bar","values":[0,20,40,60,80],"format":"d","grid":false,"zindex":1,"titlePadding":8}}},
"layer":[
{"transform":[{"calculate":"datum.vi*99/19-1.737","as":"cx"},{"calculate":"datum.pi*99/19-1.737","as":"cy"}],"mark":{"type":"rect","width":17,"height":17,"clip":true,"opacity":1}},
{"transform":[{"calculate":"datum.vi*99/19","as":"cx"},{"calculate":"datum.pi*99/19-1.737","as":"cy"}],"mark":{"type":"rect","width":17,"height":17,"clip":true,"opacity":0.5}},
{"transform":[{"calculate":"datum.vi*99/19+1.737","as":"cx"},{"calculate":"datum.pi*99/19-1.737","as":"cy"}],"mark":{"type":"rect","width":17,"height":17,"clip":true,"opacity":0.3333}},
{"transform":[{"calculate":"datum.vi*99/19-1.737","as":"cx"},{"calculate":"datum.pi*99/19","as":"cy"}],"mark":{"type":"rect","width":17,"height":17,"clip":true,"opacity":0.25}},
{"transform":[{"calculate":"datum.vi*99/19","as":"cx"},{"calculate":"datum.pi*99/19","as":"cy"}],"mark":{"type":"rect","width":17,"height":17,"clip":true,"opacity":0.2}},
{"transform":[{"calculate":"datum.vi*99/19+1.737","as":"cx"},{"calculate":"datum.pi*99/19","as":"cy"}],"mark":{"type":"rect","width":17,"height":17,"clip":true,"opacity":0.1667}},
{"transform":[{"calculate":"datum.vi*99/19-1.737","as":"cx"},{"calculate":"datum.pi*99/19+1.737","as":"cy"}],"mark":{"type":"rect","width":17,"height":17,"clip":true,"opacity":0.1429}},
{"transform":[{"calculate":"datum.vi*99/19","as":"cx"},{"calculate":"datum.pi*99/19+1.737","as":"cy"}],"mark":{"type":"rect","width":17,"height":17,"clip":true,"opacity":0.125}},
{"transform":[{"calculate":"datum.vi*99/19+1.737","as":"cx"},{"calculate":"datum.pi*99/19+1.737","as":"cy"}],"mark":{"type":"rect","width":17,"height":17,"clip":true,"opacity":0.1111}}]},
{"transform":[{"calculate":"datum.vi*99/19","as":"cx"},{"calculate":"datum.pi*99/19","as":"cy"}],"mark":{"type":"point","opacity":0},"encoding":{
"x":{"field":"cx","type":"quantitative","scale":{"domain":[-0.5,99.5],"nice":false,"zero":false},"axis":{"orient":"top","labels":false,"title":null,"values":[0,20,40,60,80],"grid":false,"zindex":1}},
"y":{"field":"cy","type":"quantitative","scale":{"domain":[99.5,-0.5],"nice":false,"zero":false},"axis":{"orient":"right","labels":false,"title":null,"values":[0,20,40,60,80],"grid":false,"zindex":1}},"color":{"value":"#000"}}}]}
]}
